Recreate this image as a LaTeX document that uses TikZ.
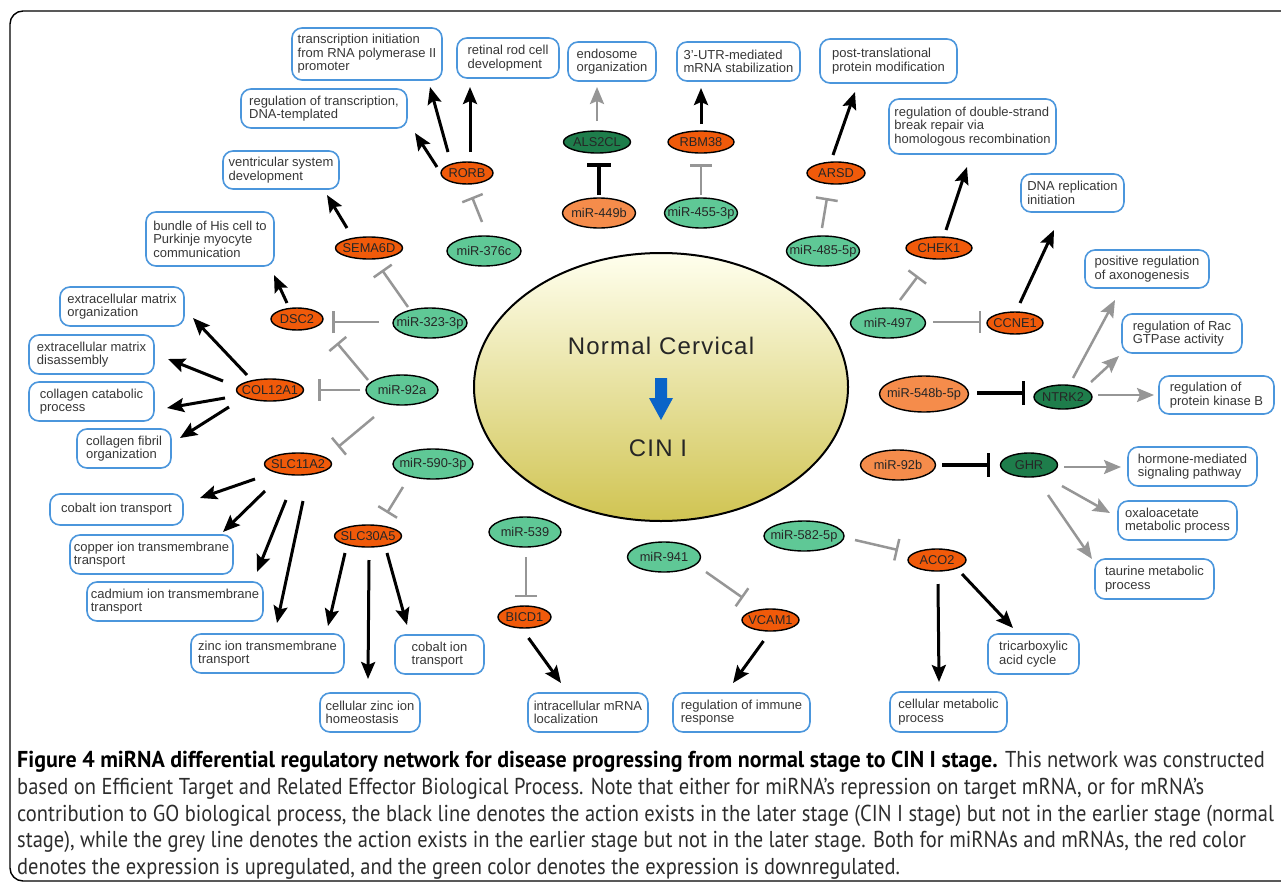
\documentclass[tikz,border=0pt]{standalone}
\usepackage{fontspec}
\setmainfont{Liberation Sans}
\newfontfamily\capfont[FakeStretch=0.89, BoldFeatures={FakeStretch=0.955}]{PT Sans}
\newfontfamily\bigfont[LetterSpace=5]{Liberation Sans}
\usetikzlibrary{arrows.meta,shapes.geometric,calc}

\definecolor{upgene}{RGB}{240,90,10}
\definecolor{dngene}{RGB}{30,125,75}
\definecolor{upmir}{RGB}{245,140,75}
\definecolor{dnmir}{RGB}{95,200,150}
\definecolor{gobord}{RGB}{75,150,220}
\definecolor{greyline}{RGB}{150,150,150}
\definecolor{boxtext}{RGB}{55,55,55}
\definecolor{captext}{RGB}{45,45,45}
\definecolor{stagetop}{RGB}{255,255,238}
\definecolor{stagemid}{RGB}{242,236,160}
\definecolor{stagebot}{RGB}{208,196,82}
\definecolor{stagearrow}{RGB}{10,100,200}

% zero-width label so that the ellipse keeps its given size
\newcommand{\ztext}[1]{\makebox[0pt]{#1}}

\begin{document}
\begin{tikzpicture}[x=1pt,y=-1pt,
  gene/.style={ellipse, draw=black, line width=1.4pt, inner sep=0pt,
    minimum height=22pt, text=black!85,
    font=\fontsize{12.8}{14}\selectfont},
  mir/.style={gene, minimum height=30pt},
  gobox/.style 2 args={rectangle, draw=gobord, line width=1.6pt,
    rounded corners=10pt, fill=white, align=left, inner sep=0pt,
    minimum width=#1, minimum height=#2, text=boxtext,
    font=\fontsize{13}{13.4}\selectfont},
  act/.style={line width=3pt, draw=black,
    -{Stealth[length=17pt,width=14pt,inset=3pt]}},
  actg/.style={act, line width=2.5pt, draw=greyline},
  inh/.style={line width=2.5pt, draw=greyline, -{Bar[width=22pt]}},
  inhk/.style={line width=3.5pt, draw=black, -{Bar[width=24pt]}}
]
\useasboundingbox (0,0) rectangle (1281,883);

% outer frame
\draw[line width=1.4pt, rounded corners=13pt]
  (1300,11) -- (10,11) -- (10,881) -- (1300,881);

% central stage ellipse
\node[ellipse, draw=black, line width=2pt, minimum width=374pt,
  minimum height=268pt, top color=stagetop, middle color=stagemid,
  bottom color=stagebot] (stage) at (661,387) {};
\node[font=\bigfont\fontsize{24}{26}\selectfont, text=black!85]
  (normal) at (661,346) {Normal Cervical};
\node[font=\bigfont\fontsize{24}{26}\selectfont, text=black!85]
  (cin) at (658,448) {CIN I};
\fill[stagearrow] ($(stage)+(-6,-9)$) -- ($(stage)+(6,-9)$) --
  ($(stage)+(6,11)$) -- ($(stage)+(12,11)$) -- ($(stage)+(0,33)$) --
  ($(stage)+(-12,11)$) -- ($(stage)+(-6,11)$) -- cycle;

% target genes
\node[gene, fill=upgene, minimum width=52pt] (rorb) at (467,173) {\ztext{RORB}};
\node[gene, fill=dngene, minimum width=67pt] (als2cl) at (597,142) {\ztext{ALS2CL}};
\node[gene, fill=upgene, minimum width=66pt] (rbm38) at (701,142) {\ztext{RBM38}};
\node[gene, fill=upgene, minimum width=58pt] (arsd) at (836,173) {\ztext{ARSD}};
\node[gene, fill=upgene, minimum width=67pt] (sema6d) at (369,248) {\ztext{SEMA6D}};
\node[gene, fill=upgene, minimum width=66pt] (chek1) at (939,248) {\ztext{CHEK1}};
\node[gene, fill=upgene, minimum width=52pt] (dsc2) at (297,319) {\ztext{DSC2}};
\node[gene, fill=upgene, minimum width=67pt] (col12a1) at (270,390) {\ztext{COL12A1}};
\node[gene, fill=upgene, minimum width=67pt] (slc11a2) at (298,464) {\ztext{SLC11A2}};
\node[gene, fill=upgene, minimum width=67pt] (slc30a5) at (368,536) {\ztext{SLC30A5}};
\node[gene, fill=upgene, minimum width=56pt] (ccne1) at (1015,323) {\ztext{CCNE1}};
\node[gene, fill=dngene, minimum width=58pt, minimum height=24pt] (ntrk2) at (1063,397) {\ztext{NTRK2}};
\node[gene, fill=dngene, minimum width=57pt, minimum height=24pt] (ghr) at (1029,465) {\ztext{GHR}};
\node[gene, fill=upgene, minimum width=58pt] (aco2) at (937,560) {\ztext{ACO2}};
\node[gene, fill=upgene, minimum width=53pt] (bicd1) at (524.5,617) {\ztext{BICD1}};
\node[gene, fill=upgene, minimum width=57pt] (vcam1) at (770.5,620) {\ztext{VCAM1}};

% miRNAs
\node[mir, fill=dnmir, minimum width=74pt] (m376c) at (484,251) {\ztext{miR-376c}};
\node[mir, fill=upmir, minimum width=73pt] (m449b) at (599,213) {\ztext{miR-449b}};
\node[mir, fill=dnmir, minimum width=73pt] (m455) at (701,213) {\ztext{miR-455-3p}};
\node[mir, fill=dnmir, minimum width=73pt] (m485) at (823,251) {\ztext{miR-485-5p}};
\node[mir, fill=dnmir, minimum width=74pt] (m323) at (430,323) {\ztext{miR-323-3p}};
\node[mir, fill=dnmir, minimum width=72pt] (m92a) at (402,390) {\ztext{miR-92a}};
\node[mir, fill=dnmir, minimum width=80pt] (m590) at (433,464) {\ztext{miR-590-3p}};
\node[mir, fill=dnmir, minimum width=75pt] (m497) at (888,323) {\ztext{miR-497}};
\node[mir, fill=upmir, minimum width=89pt, minimum height=36pt] (m548b) at (924,394) {\ztext{miR-548b-5p}};
\node[mir, fill=upmir, minimum width=75pt] (m92b) at (898,465) {\ztext{miR-92b}};
\node[mir, fill=dnmir, minimum width=80pt] (m582) at (804,536) {\ztext{miR-582-5p}};
\node[mir, fill=dnmir, minimum width=72pt] (m539) at (525,532) {\ztext{miR-539}};
\node[mir, fill=dnmir, minimum width=73pt] (m941) at (664,557) {\ztext{miR-941}};

% GO biological process boxes
\node[gobox={150pt}{52pt}] (tinit) at (367,54) {transcription initiation\\from RNA polymerase II\\promoter};
\node[gobox={166pt}{39pt}] (regtx) at (324,108.5) {regulation of transcription,\\DNA-templated};
\node[gobox={102pt}{40pt}] (retinal) at (508,58) {retinal rod cell\\development};
\node[gobox={88pt}{39pt}] (endo) at (612,61.5) {endosome\\organization};
\node[gobox={123pt}{39pt}] (utr) at (738.5,61.5) {3'-UTR-mediated\\mRNA stabilization};
\node[gobox={137pt}{44pt}] (ptm) at (888.5,61) {post-translational\\protein modification};
\node[gobox={167pt}{55pt}] (dsb) at (972.5,126.5) {regulation of double-strand\\break repair via\\homologous recombination};
\node[gobox={103pt}{38pt}] (dnarep) at (1072.5,193) {DNA replication\\initiation};
\node[gobox={124pt}{38pt}] (axon) at (1147,269) {positive regulation\\of axonogenesis};
\node[gobox={120pt}{39pt}] (rac) at (1182,333.5) {regulation of Rac\\GTPase activity};
\node[gobox={115pt}{38pt}] (pkb) at (1216.5,395) {regulation of\\protein kinase B};
\node[gobox={129pt}{39pt}] (hormone) at (1192.5,466.5) {hormone-mediated\\signaling pathway};
\node[gobox={119pt}{39pt}] (oxalo) at (1177.5,520.5) {oxaloacetate\\metabolic process};
\node[gobox={119pt}{40pt}] (taurine) at (1154.5,579) {taurine metabolic\\process};
\node[gobox={91pt}{40pt}] (tca) at (1033.5,654) {tricarboxylic\\acid cycle};
\node[gobox={117pt}{40pt}] (cellmet) at (948.5,712) {cellular metabolic\\process};
\node[gobox={137pt}{39pt}] (immune) at (741.5,712.5) {regulation of immune\\response};
\node[gobox={120pt}{39pt}] (mrnaloc) at (588,712.5) {intracellular mRNA\\localization};
\node[gobox={100pt}{39pt}] (znhomeo) at (370,712.5) {cellular zinc ion\\homeostasis};
\node[gobox={89pt}{39pt}] (cobalt2) at (439.5,654.5) {cobalt ion\\transport};
\node[gobox={153pt}{39pt}] (zntm) at (267.5,653.5) {zinc ion transmembrane\\transport};
\node[gobox={176pt}{39pt}] (cadmium) at (175,601.5) {cadmium ion transmembrane\\transport};
\node[gobox={163pt}{39pt}] (copper) at (151.5,554.5) {copper ion transmembrane\\transport};
\node[gobox={133pt}{31pt}] (cobalt1) at (116.5,509.5) {cobalt ion transport};
\node[gobox={94pt}{39pt}] (fibril) at (124,448.5) {collagen fibril\\organization};
\node[gobox={125pt}{39pt}] (catab) at (91.5,401.5) {collagen catabolic\\process};
\node[gobox={125pt}{39pt}] (disasm) at (91.5,354.5) {extracellular matrix\\disassembly};
\node[gobox={124pt}{39pt}] (ecmorg) at (122,306.5) {extracellular matrix\\organization};
\node[gobox={128pt}{54pt}] (his) at (210,239) {bundle of His cell to\\Purkinje myocyte\\communication};
\node[gobox={116pt}{38pt}] (ventr) at (281,170) {ventricular system\\development};

% miRNA repression of targets
\draw[inh]  ($(m376c)+(-2,-29)$) -- ($(rorb)+(5,24)$);
\draw[inhk] ($(m449b)+(0,-18)$) -- ($(als2cl)+(2,21)$);
\draw[inh]  ($(m455)+(0,-18)$) -- ($(rbm38)+(0,22)$);
\draw[inh]  ($(m485)+(-1,-23)$) -- ($(arsd)+(-9,25)$);
\draw[inh]  ($(m323)+(-22,-16)$) -- ($(sema6d)+(13,22)$);
\draw[inh]  ($(m323)+(-51,-1)$) -- ($(dsc2)+(35,3)$);
\draw[inh]  ($(m92a)+(-34,-10)$) -- ($(dsc2)+(40,24)$);
\draw[inh]  ($(m92a)+(-42,0)$) -- ($(col12a1)+(48,0)$);
\draw[inh]  ($(m92a)+(-28,27)$) -- ($(slc11a2)+(40,-17)$);
\draw[inh]  ($(m590)+(-30,23)$) -- ($(slc30a5)+(19,-23)$);
\draw[inh]  ($(m497)+(12,-23)$) -- ($(chek1)+(-21,28)$);
\draw[inh]  ($(m497)+(45,-1)$) -- ($(ccne1)+(-34,-1)$);
\draw[inhk] ($(m548b)+(53,-1)$) -- ($(ntrk2)+(-38,-4)$);
\draw[inhk] ($(m92b)+(44,0)$) -- ($(ghr)+(-39,0)$);
\draw[inh]  ($(m582)+(51,4)$) -- ($(aco2)+(-39,-10)$);
\draw[inh]  ($(m539)+(1,25)$) -- ($(bicd1)+(1.5,-20)$);
\draw[inh]  ($(m941)+(42,15)$) -- ($(vcam1)+(-27.5,-22)$);

% target contribution to biological processes
\draw[act]  ($(rorb)+(-19,-21)$) -- ($(tinit)+(63,33)$);
\draw[act]  ($(rorb)+(-30,-6)$) -- ($(regtx)+(91,24.5)$);
\draw[act]  ($(rorb)+(3,-21)$) -- ($(retinal)+(-38,29)$);
\draw[actg] ($(als2cl)+(0,-21)$) -- ($(endo)+(-15,25.5)$);
\draw[act]  ($(rbm38)+(0,-18)$) -- ($(utr)+(-37.5,26.5)$);
\draw[act]  ($(arsd)+(-3,-18)$) -- ($(ptm)+(-33.5,31)$);
\draw[act]  ($(chek1)+(7,-18)$) -- ($(dsb)+(-5.5,40.5)$);
\draw[act]  ($(ccne1)+(5,-20)$) -- ($(dnarep)+(-18.5,37)$);
\draw[actg] ($(ntrk2)+(10,-19)$) -- ($(axon)+(-32,31)$);
\draw[actg] ($(ntrk2)+(28,-15)$) -- ($(rac)+(-63,22.5)$);
\draw[actg] ($(ntrk2)+(35,-2)$) -- ($(pkb)+(-62.5,0)$);
\draw[actg] ($(ghr)+(35,2)$) -- ($(hormone)+(-71.5,0.5)$);
\draw[actg] ($(ghr)+(33,21)$) -- ($(oxalo)+(-67.5,-7.5)$);
\draw[actg] ($(ghr)+(19,30)$) -- ($(taurine)+(-62.5,-20)$);
\draw[act]  ($(aco2)+(1,24)$) -- ($(cellmet)+(-9.5,-30)$);
\draw[act]  ($(aco2)+(25,14)$) -- ($(tca)+(-20.5,-26)$);
\draw[act]  ($(bicd1)+(4,21)$) -- ($(mrnaloc)+(-27,-29.5)$);
\draw[act]  ($(vcam1)+(-7,21)$) -- ($(immune)+(-8.5,-29.5)$);
\draw[act]  ($(slc30a5)+(19,17)$) -- ($(cobalt2)+(-32.5,-29.5)$);
\draw[act]  ($(slc30a5)+(1,24)$) -- ($(znhomeo)+(-2,-33.5)$);
\draw[act]  ($(slc30a5)+(-23,17)$) -- ($(zntm)+(60.5,-27.5)$);
\draw[act]  ($(slc11a2)+(-43,15)$) -- ($(cobalt1)+(83.5,-11.5)$);
\draw[act]  ($(slc11a2)+(-33,27)$) -- ($(copper)+(71.5,-22.5)$);
\draw[act]  ($(slc11a2)+(-12,36)$) -- ($(cadmium)+(82,-29.5)$);
\draw[act]  ($(slc11a2)+(5,37)$) -- ($(zntm)+(9.5,-30.5)$);
\draw[act]  ($(col12a1)+(-23,-15)$) -- ($(ecmorg)+(71,11.5)$);
\draw[act]  ($(col12a1)+(-47,-9)$) -- ($(disasm)+(76.5,4.5)$);
\draw[act]  ($(col12a1)+(-45,8)$) -- ($(catab)+(75.5,6.5)$);
\draw[act]  ($(col12a1)+(-41,17)$) -- ($(fibril)+(56,-10.5)$);
\draw[act]  ($(dsc2)+(-10,-16)$) -- ($(his)+(64,36)$);
\draw[act]  ($(sema6d)+(-22,-20)$) -- ($(ventr)+(46,25)$);

% caption
\node[anchor=north west, align=left, inner sep=0pt, text=captext,
  font=\capfont\fontsize{23}{26.7}\selectfont] (caption) at (17,751)
{\textbf{\color{black}Figure 4 miRNA differential regulatory network for disease progressing from normal stage to CIN I stage.} This network was constructed\\
based on Efficient Target and Related Effector Biological Process. Note that either for miRNA’s repression on target mRNA, or for mRNA’s\\
contribution to GO biological process, the black line denotes the action exists in the later stage (CIN I stage) but not in the earlier stage (normal\\
stage), while the grey line denotes the action exists in the earlier stage but not in the later stage. Both for miRNAs and mRNAs, the red color\\
denotes the expression is upregulated, and the green color denotes the expression is downregulated.};
\end{tikzpicture}
\end{document}
